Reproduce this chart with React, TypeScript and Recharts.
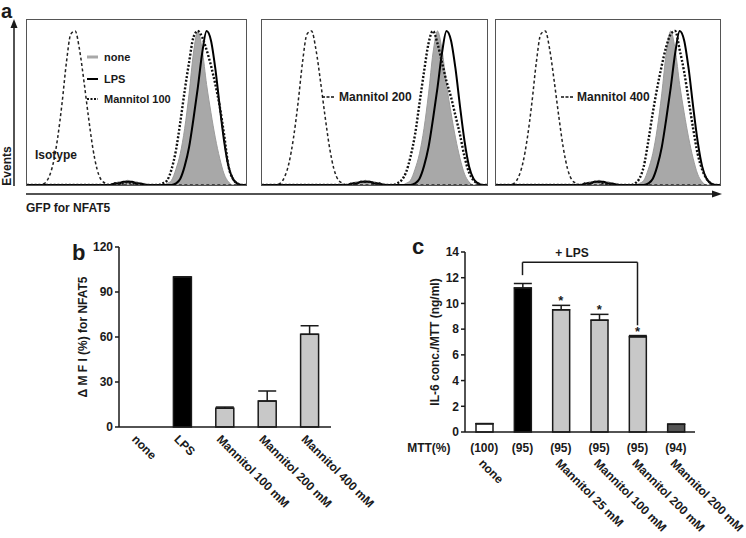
import React from "react";
import {
  ComposedChart,
  Area,
  Line,
  XAxis,
  YAxis,
  BarChart,
  Bar,
  Cell,
  ErrorBar,
  ReferenceLine,
  ReferenceDot,
} from "recharts";

const FONT = "'Liberation Sans', Arial, Helvetica, sans-serif";
const INK = "#1a1a1a";

// panel a: GFP histograms, bins on a 0..100 channel scale
const gfpBins = [
  0, 2, 4, 6, 8, 10, 12, 14, 16, 18,
  20, 22, 24, 26, 28, 30, 32, 34, 36, 38,
  40, 42, 44, 46, 48, 50, 52, 54, 56, 58,
  60, 62, 64, 66, 68, 70, 72, 74, 76, 78,
  80, 82, 84, 86, 88, 90, 92, 94, 96, 98,
  100,
];
const isotypeGfp = [
  0, 0, 0, 0, 1, 5, 14, 30, 52, 78,
  96, 98, 86, 66, 44, 24, 10, 3, 1, 0,
  0, 0, 0, 0, 0, 0, 0, 0, 0, 0,
  0, 0, 0, 0, 0, 0, 0, 0, 0, 0,
  0, 0, 0, 0, 0, 0, 0, 0, 0, 0,
  0,
];
const noneGfp = [
  0, 0, 0, 0, 0, 0, 0, 0, 0, 0,
  0, 0, 0, 0, 0, 0, 0, 0, 0, 0,
  1, 2, 2, 3, 2, 2, 1, 1, 0, 0,
  0, 0, 1, 3, 10, 20, 36, 58, 84, 98,
  86, 64, 46, 30, 17, 7, 2, 0, 0, 0,
  0,
];
const lpsGfp = [
  0, 0, 0, 0, 0, 0, 0, 0, 0, 0,
  0, 0, 0, 0, 0, 0, 0, 0, 0, 0,
  1, 1, 2, 2, 2, 1, 1, 0, 0, 0,
  0, 0, 0, 0, 1, 4, 12, 24, 42, 62,
  84, 98, 92, 74, 50, 28, 12, 4, 1, 0,
  0,
];
const mannitol100Gfp = [
  0, 0, 0, 0, 0, 0, 0, 0, 0, 0,
  0, 0, 0, 0, 0, 0, 0, 0, 0, 0,
  1, 1, 1, 2, 1, 1, 0, 0, 0, 0,
  0, 1, 3, 10, 22, 40, 60, 78, 94, 98,
  94, 86, 76, 64, 50, 32, 12, 4, 1, 0,
  0,
];
const mannitol200Gfp = [
  0, 0, 0, 0, 0, 0, 0, 0, 0, 0,
  0, 0, 0, 0, 0, 0, 0, 0, 0, 0,
  1, 1, 2, 2, 2, 1, 1, 0, 0, 0,
  1, 3, 8, 18, 32, 52, 72, 90, 98, 90,
  78, 66, 56, 44, 32, 18, 8, 3, 1, 0,
  0,
];
const mannitol400Gfp = [
  0, 0, 0, 0, 0, 0, 0, 0, 0, 0,
  0, 0, 0, 0, 0, 0, 0, 0, 0, 0,
  1, 1, 2, 2, 1, 1, 0, 0, 0, 0,
  0, 1, 4, 12, 28, 46, 62, 76, 88, 96,
  98, 86, 72, 54, 36, 20, 10, 4, 1, 0,
  0,
];
const eventTicks = [0, 20, 40, 60, 80, 100];

// panel b: delta MFI
const nfatKeys = ["none", "LPS", "M100", "M200", "M400"];
const nfatLabels = ["none", "LPS", "Mannitol 100 mM", "Mannitol 200 mM", "Mannitol 400 mM"];
const nfatMfi = [0, 100, 12.5, 17.3, 61.8];
const nfatMfiErr = [0, 0, 0.8, 6.7, 5.7];
const nfatTicks = [0, 30, 60, 90, 120];

// panel c: IL-6 / MTT
const il6Keys = ["none", "LPS", "M25", "M100", "M200", "M200only"];
const il6Labels = ["none", "", "Mannitol 25 mM", "Mannitol 100 mM", "Mannitol 200 mM", "Mannitol 200 mM"];
const il6Values = [0.65, 11.2, 9.5, 8.7, 7.4, 0.6];
const il6Err = [0, 0.35, 0.35, 0.45, 0.1, 0];
const mttPercent = ["(100)", "(95)", "(95)", "(95)", "(95)", "(94)"];
const il6Significant = [false, false, true, true, true, false];
const il6Ticks = [0, 2, 4, 6, 8, 10, 12, 14];

const nfatFills = ["#c8c8c8", "#000000", "#c8c8c8", "#c8c8c8", "#c8c8c8"];
const il6Fills = ["#ffffff", "#000000", "#c8c8c8", "#c8c8c8", "#c8c8c8", "#555555"];

// log-decade minor ticks along the GFP axis
const gfpTicks = [0, 1, 2, 3]
  .flatMap((d) => [1, 2, 3, 4, 5, 6, 7, 8, 9].map((k) => d * 25 + 25 * Math.log10(k)))
  .concat(100);

const boldText = { fontFamily: FONT, fontWeight: 700, fill: INK } as const;

function Histogram({ left, width, mannitol }: { left: number; width: number; mannitol: number[] }) {
  const rows = gfpBins.map((x, i) => ({
    x,
    isotype: isotypeGfp[i],
    none: noneGfp[i],
    lps: lpsGfp[i],
    mannitol: mannitol[i],
  }));
  return (
    <div
      style={{
        position: "absolute",
        left,
        top: 19,
        width,
        height: 167,
        border: "1px solid #555",
        boxSizing: "border-box",
      }}
    >
      <ComposedChart width={width - 2} height={165} data={rows} margin={{ top: 0, right: 0, bottom: 0, left: 0 }}>
        <XAxis
          dataKey="x"
          type="number"
          domain={[0, 100]}
          ticks={gfpTicks}
          mirror
          tick={false}
          axisLine={false}
          tickSize={3}
          stroke="#555"
        />
        <YAxis domain={[0, 105]} ticks={eventTicks} mirror tick={false} axisLine={false} tickSize={4} stroke="#555" />
        <Area
          dataKey="none"
          type="monotone"
          fill="#a8a8a8"
          fillOpacity={1}
          stroke="#9c9c9c"
          strokeWidth={1}
          dot={false}
          activeDot={false}
          isAnimationActive={false}
        />
        <Line dataKey="isotype" type="monotone" stroke="#222" strokeWidth={1.5} strokeDasharray="3 2.5" dot={false} isAnimationActive={false} />
        <Line dataKey="lps" type="monotone" stroke="#000" strokeWidth={2} dot={false} isAnimationActive={false} />
        <Line dataKey="mannitol" type="monotone" stroke="#111" strokeWidth={2.4} strokeDasharray="2 1.8" dot={false} isAnimationActive={false} />
      </ComposedChart>
    </div>
  );
}

function NfatTick({ x, y, index }: any) {
  return (
    <text transform={`translate(${x - 9},${y + 13}) rotate(45)`} textAnchor="start" fontSize={12} {...boldText}>
      {nfatLabels[index]}
    </text>
  );
}

function Il6Tick({ x, y, index }: any) {
  return (
    <g>
      {index === 0 && (
        <text x={x - 77} y={y + 20} textAnchor="start" fontSize={12} {...boldText}>
          MTT(%)
        </text>
      )}
      <text x={x} y={y + 20} textAnchor="middle" fontSize={12} {...boldText}>
        {mttPercent[index]}
      </text>
      <text transform={`translate(${x - 6},${y + 32}) rotate(45)`} textAnchor="start" fontSize={12} {...boldText}>
        {il6Labels[index]}
      </text>
    </g>
  );
}

function NfatChart() {
  const rows = nfatKeys.map((key, i) => ({ key, mfi: nfatMfi[i], err: [0, nfatMfiErr[i]] }));
  return (
    <div style={{ position: "absolute", left: 0, top: 230 }}>
      <BarChart width={400} height={308} data={rows} margin={{ top: 17, right: 69, bottom: 11, left: 79 }} barSize={18}>
        <XAxis
          dataKey="key"
          interval={0}
          height={100}
          tickSize={0}
          tickMargin={0}
          tickLine={false}
          axisLine={{ stroke: INK, strokeWidth: 1.5 }}
          tick={<NfatTick />}
        />
        <YAxis
          domain={[0, 120]}
          ticks={nfatTicks}
          width={40}
          tickSize={4}
          axisLine={{ stroke: INK, strokeWidth: 1.5 }}
          tickLine={{ stroke: INK, strokeWidth: 1.5 }}
          tick={{ ...boldText, fontSize: 12 }}
          label={{
            value: "\u0394 M F I (%) for NFAT5",
            angle: -90,
            position: "insideLeft",
            offset: 4,
            style: { ...boldText, fontSize: 12, textAnchor: "middle" },
          }}
        />
        <Bar dataKey="mfi" stroke={INK} strokeWidth={1.5} isAnimationActive={false}>
          {rows.map((r, i) => (
            <Cell key={r.key} fill={nfatFills[i]} />
          ))}
          <ErrorBar dataKey="err" width={9} stroke={INK} strokeWidth={1.5} direction="y" />
        </Bar>
      </BarChart>
    </div>
  );
}

function Il6Chart() {
  const rows = il6Keys.map((key, i) => ({ key, il6: il6Values[i], err: [0, il6Err[i]] }));
  return (
    <div style={{ position: "absolute", left: 370, top: 230 }}>
      <ComposedChart width={376} height={308} data={rows} margin={{ top: 22, right: 51, bottom: 6, left: 55 }} barSize={17}>
        <XAxis
          dataKey="key"
          interval={0}
          height={100}
          tickSize={0}
          tickMargin={0}
          tickLine={false}
          axisLine={{ stroke: INK, strokeWidth: 1.5 }}
          tick={<Il6Tick />}
        />
        <YAxis
          domain={[0, 14]}
          ticks={il6Ticks}
          width={40}
          tickSize={4}
          axisLine={{ stroke: INK, strokeWidth: 1.5 }}
          tickLine={{ stroke: INK, strokeWidth: 1.5 }}
          tick={{ ...boldText, fontSize: 12 }}
          label={{
            value: "IL-6 conc./MTT (ng/ml)",
            angle: -90,
            position: "insideLeft",
            offset: 10,
            style: { ...boldText, fontSize: 12, textAnchor: "middle" },
          }}
        />
        <Bar dataKey="il6" stroke={INK} strokeWidth={1.5} isAnimationActive={false}>
          {rows.map((r, i) => (
            <Cell key={r.key} fill={il6Fills[i]} />
          ))}
          <ErrorBar dataKey="err" width={9} stroke={INK} strokeWidth={1.5} direction="y" />
        </Bar>
        <ReferenceLine
          segment={[{ x: "LPS", y: 13.2 }, { x: "M200", y: 13.2 }]}
          stroke={INK}
          strokeWidth={1.5}
          ifOverflow="visible"
          label={(p: any) => (
            <text x={p.viewBox.x + p.viewBox.width / 2 - 8} y={p.viewBox.y - 5} textAnchor="middle" fontSize={12} {...boldText}>
              + LPS
            </text>
          )}
        />
        <ReferenceLine segment={[{ x: "LPS", y: 13.2 }, { x: "LPS", y: 12.2 }]} stroke={INK} strokeWidth={1.5} ifOverflow="visible" />
        <ReferenceLine segment={[{ x: "M200", y: 13.2 }, { x: "M200", y: 8.3 }]} stroke={INK} strokeWidth={1.5} ifOverflow="visible" />
        {rows.map((r, i) =>
          il6Significant[i] ? (
            <ReferenceDot
              key={`sig-${r.key}`}
              x={r.key}
              y={il6Values[i] + il6Err[i] + 0.55}
              r={1}
              fill="none"
              stroke="none"
              ifOverflow="visible"
              label={(p: any) => (
                <text x={p.viewBox.x + 1} y={p.viewBox.y + 8} textAnchor="middle" fontSize={13} {...boldText}>
                  *
                </text>
              )}
            />
          ) : null
        )}
      </ComposedChart>
    </div>
  );
}

function Decorations() {
  const t = { ...boldText };
  return (
    <svg width={746} height={538} style={{ position: "absolute", left: 0, top: 0, pointerEvents: "none" }}>
      <text x={1} y={18} fontSize={20} {...t}>a</text>
      <text x={72} y={260} fontSize={22} {...t}>b</text>
      <text x={412} y={254} fontSize={22} {...t}>c</text>

      {/* Events axis */}
      <line x1={14} y1={186} x2={14} y2={26} stroke={INK} strokeWidth={1.5} />
      <polygon points="14,19 10.5,28 17.5,28" fill={INK} />
      <text transform="translate(11,166) rotate(-90)" textAnchor="middle" fontSize={12} {...t}>Events</text>

      {/* GFP axis */}
      <line x1={26} y1={194} x2={713} y2={194} stroke={INK} strokeWidth={1.5} />
      <polygon points="722,194 712,190.5 712,197.5" fill={INK} />
      <text x={26} y={212} fontSize={12} {...t}>GFP for NFAT5</text>

      {/* panel a legends */}
      <line x1={87} y1={57} x2={98} y2={57} stroke="#a8a8a8" strokeWidth={3} />
      <text x={104} y={61} fontSize={11} {...t}>none</text>
      <line x1={87} y1={79} x2={98} y2={79} stroke="#000" strokeWidth={2} />
      <text x={104} y={83} fontSize={11} {...t}>LPS</text>
      <line x1={87} y1={99} x2={98} y2={99} stroke="#111" strokeWidth={2} strokeDasharray="2 1.5" />
      <text x={104} y={103} fontSize={11} {...t}>Mannitol 100</text>
      <text x={35} y={159} fontSize={12} {...t}>Isotype</text>

      <line x1={322} y1={97} x2={334} y2={97} stroke="#111" strokeWidth={1.6} strokeDasharray="3 1.5" />
      <text x={339} y={101} fontSize={12} {...t}>Mannitol 200</text>
      <line x1={561} y1={97} x2={573} y2={97} stroke="#111" strokeWidth={1.6} strokeDasharray="3 1.5" />
      <text x={577} y={101} fontSize={12} {...t}>Mannitol 400</text>
    </svg>
  );
}

export default function App() {
  return (
    <div
      style={{
        position: "absolute",
        left: 0,
        top: 0,
        width: 746,
        height: 538,
        background: "#fff",
        fontFamily: FONT,
        overflow: "hidden",
      }}
    >
      <Histogram left={26} width={221} mannitol={mannitol100Gfp} />
      <Histogram left={261} width={227} mannitol={mannitol200Gfp} />
      <Histogram left={495} width={226} mannitol={mannitol400Gfp} />
      <NfatChart />
      <Il6Chart />
      <Decorations />
    </div>
  );
}
